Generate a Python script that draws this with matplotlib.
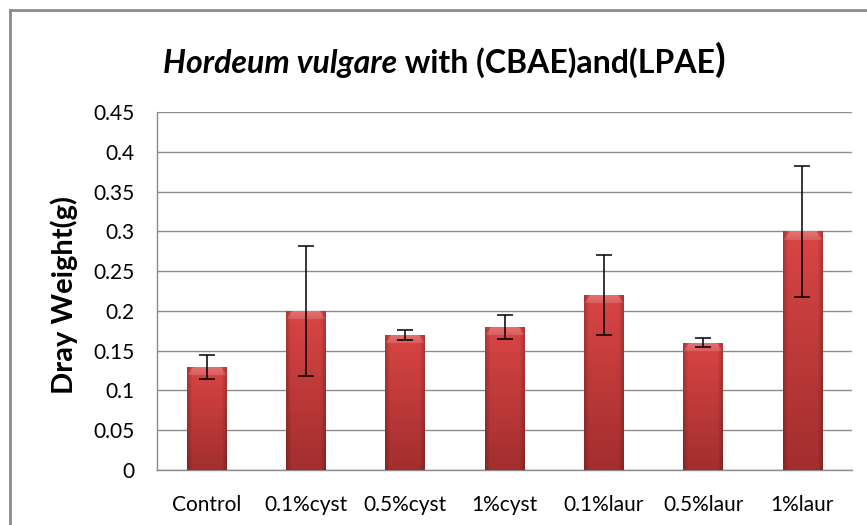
import numpy as np
import matplotlib
matplotlib.use("Agg")
import matplotlib.pyplot as plt
from matplotlib.lines import Line2D

categories = ["Control", "0.1%cyst", "0.5%cyst", "1%cyst", "0.1%laur", "0.5%laur", "1%laur"]
dry_weight = [0.13, 0.20, 0.17, 0.18, 0.22, 0.16, 0.30]
std_err = [0.015, 0.082, 0.006, 0.015, 0.05, 0.006, 0.082]
y_ticks = [0, 0.05, 0.1, 0.15, 0.2, 0.25, 0.3, 0.35, 0.4, 0.45]

plt.rcParams["font.family"] = ["Lato", "DejaVu Sans"]

W, H = 867, 525
fig = plt.figure(figsize=(W / 100, H / 100), dpi=100)
ax = fig.add_axes([157 / W, 1 - 470 / H, (852 - 157) / W, (470 - 112) / H])

x = np.arange(len(categories))
bars = ax.bar(x, dry_weight, width=0.4, color="#c23a3a", zorder=2)
ax.errorbar(x, dry_weight, yerr=std_err, fmt="none", ecolor="black",
            elinewidth=1.1, capsize=5.5, capthick=1.1, zorder=4)

ax.set_xlim(-0.5, len(categories) - 0.5)
ax.set_ylim(0, 0.45)

# shaded bar fill (Excel-like bevel): gradient image clipped to each bar
px_per_unit = (470 - 112) / 0.45
top_c = np.array([0xd9, 0x45, 0x45]) / 255
bot_c = np.array([0xa3, 0x2e, 0x2e]) / 255
for b in bars:
    h = b.get_height()
    rows = max(int(h * px_per_unit), 2)
    cols = 40
    t = np.linspace(0, 1, rows)[:, None, None]
    img = top_c * (1 - t) + bot_c * t
    img = np.repeat(img, cols, axis=1)
    u = np.linspace(-1, 1, cols)[None, :, None]
    edge = 1 - 0.2 * np.clip((np.abs(u) - 0.75) / 0.25, 0, 1)
    img = img * edge
    # light bevel at top, fading downwards
    bev = 9
    for r in range(min(bev, rows)):
        inset = (bev - r) / bev
        mask = np.abs(u[0, :, 0]) < 1 - 0.3 * inset
        boost = 0.5 + 0.5 * inset
        img[r, mask] = np.clip(img[r, mask] + (1 - img[r, mask]) * 0.25 * boost, 0, 1)
    im = ax.imshow(img, extent=[b.get_x(), b.get_x() + b.get_width(), 0, h],
                   aspect="auto", zorder=3, interpolation="bilinear")
    im.set_clip_path(b)

ax.set_yticks(y_ticks)
ax.set_yticklabels([f"{v:g}" for v in y_ticks])
ax.set_xticks(x)
ax.set_xticklabels(categories)
ax.tick_params(axis="both", length=0, labelsize=15, colors="black")
ax.tick_params(axis="y", pad=16)
ax.tick_params(axis="x", pad=18)
ax.yaxis.grid(True, color="#8c8c8c", linewidth=1.0, zorder=0)
ax.set_axisbelow(True)
for s in ["top", "right"]:
    ax.spines[s].set_visible(False)
for s in ["left", "bottom"]:
    ax.spines[s].set_color("#8c8c8c")
    ax.spines[s].set_linewidth(1.0)

fig.text(64 / W, 1 - 295 / H, "Dray Weight(g)", rotation=90, ha="center",
         va="center", fontsize=21, fontweight="bold")

# title, built from pieces
t1 = fig.text(163 / W, 1 - 73 / H, "Hordeum vulgare", fontsize=23,
              fontweight="bold", style="italic", va="baseline")
t2 = ax.annotate(" with (CBAE)and(LPAE", xy=(1, 0), xycoords=t1, fontsize=23,
                 fontweight="bold", va="bottom", annotation_clip=False)
ax.annotate(")", xy=(1, 0), xycoords=t2, fontsize=28, fontweight="bold",
            va="bottom", annotation_clip=False)

# outer chart border (left + top)
fig.add_artist(Line2D([9.5 / W, 9.5 / W], [0, 1 - 10 / H], color="#8a8a8a",
                      linewidth=2, transform=fig.transFigure))
fig.add_artist(Line2D([9.5 / W, 1], [1 - 10 / H, 1 - 10 / H], color="#8a8a8a",
                      linewidth=2, transform=fig.transFigure))

fig.savefig("out.png", dpi=100)
